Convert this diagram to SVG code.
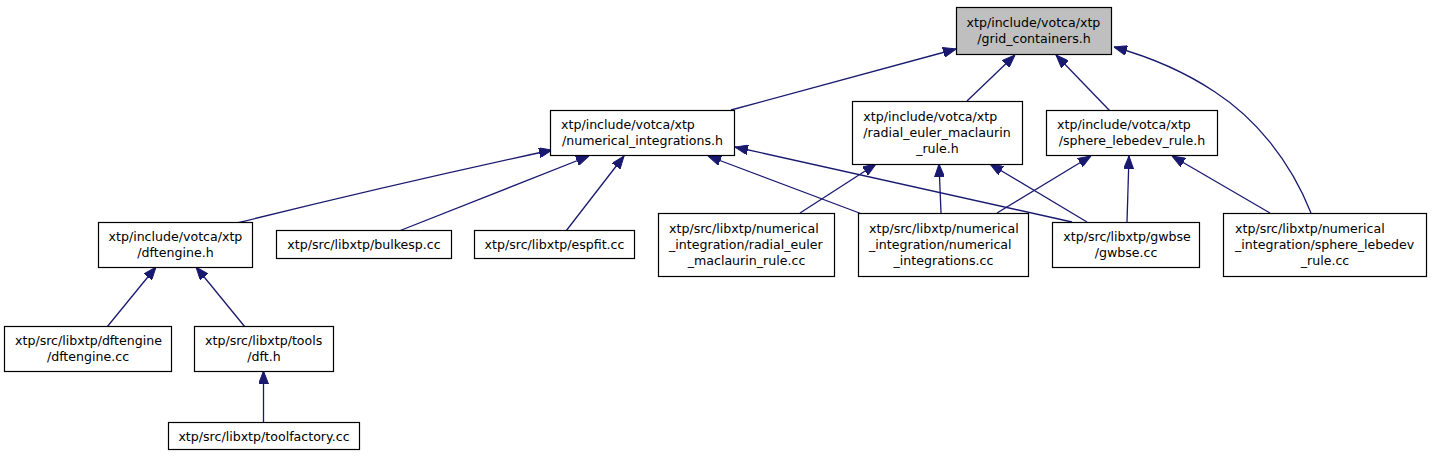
<svg xmlns="http://www.w3.org/2000/svg" width="1432" height="456" viewBox="0 0 1432 456">
<style>
.n rect{fill:#ffffff;stroke:#000000;stroke-width:1.2}
.n.root rect{fill:#bfbfbf}
text{font-family:"DejaVu Sans","Liberation Sans",sans-serif;font-size:12.6px;fill:#000000}
.c{text-anchor:middle}
.e path{fill:none;stroke:#191970;stroke-width:1.3;marker-end:url(#ah)}
</style>
<defs>
<marker id="ah" viewBox="0 0 13 10" refX="13" refY="5" markerWidth="13" markerHeight="10" markerUnits="userSpaceOnUse" orient="auto">
<path d="M0,0 L13,5 L0,10 z" fill="#191970" stroke="#191970" stroke-width="1"/>
</marker>
</defs>
<rect width="1432" height="456" fill="#ffffff"/>
<g id="edges" class="e">
<path d="M731,110 L956,49"/>
<path d="M967,101 L1015,55"/>
<path d="M1110,111 L1056,55"/>
<path d="M1311,213 C1290,160 1255,118 1215,92 C1185,72 1150,57 1114,47"/>
<path d="M237,223 Q390,185 552,150"/>
<path d="M399,231 L589,156"/>
<path d="M566,231 L624,156"/>
<path d="M862,214 L708,156"/>
<path d="M1072,222 L735,147"/>
<path d="M800,213 L876,164"/>
<path d="M941,213 L939,164"/>
<path d="M1087,222 L990,164"/>
<path d="M997,213 L1091,156"/>
<path d="M1127,222 L1129,156"/>
<path d="M1270,213 L1172,156"/>
<path d="M107,327 L156,267"/>
<path d="M245,327 L196,267"/>
<path d="M263.5,423 L263.5,371"/>
</g>
<g id="node_root" class="n root">
<rect x="956.5" y="7.5" width="155" height="47"/>
<text x="966.5" y="27">xtp/include/votca/xtp</text>
<text class="c" x="1034" y="43">/grid_containers.h</text>
</g>
<g id="node_numint_h" class="n">
<rect x="550.5" y="110.5" width="184" height="45"/>
<text x="561" y="129">xtp/include/votca/xtp</text>
<text class="c" x="642.5" y="145">/numerical_integrations.h</text>
</g>
<g id="node_radial_h" class="n">
<rect x="852.5" y="101.5" width="170" height="63"/>
<text x="863.3" y="121">xtp/include/votca/xtp</text>
<text x="863.3" y="137">/radial_euler_maclaurin</text>
<text class="c" x="937.5" y="153">_rule.h</text>
</g>
<g id="node_sphere_h" class="n">
<rect x="1046.5" y="110.5" width="171" height="45"/>
<text x="1057" y="129">xtp/include/votca/xtp</text>
<text class="c" x="1132" y="145">/sphere_lebedev_rule.h</text>
</g>
<g id="node_dftengine_h" class="n">
<rect x="98.5" y="222.5" width="154" height="45"/>
<text x="108.5" y="241">xtp/include/votca/xtp</text>
<text class="c" x="175.5" y="257">/dftengine.h</text>
</g>
<g id="node_bulkesp" class="n">
<rect x="276.5" y="230.5" width="175" height="28"/>
<text class="c" x="364" y="249">xtp/src/libxtp/bulkesp.cc</text>
</g>
<g id="node_espfit" class="n">
<rect x="474.5" y="230.5" width="160" height="28"/>
<text class="c" x="554.5" y="249">xtp/src/libxtp/espfit.cc</text>
</g>
<g id="node_radial_cc" class="n">
<rect x="658.5" y="213.5" width="176" height="63"/>
<text x="669" y="233">xtp/src/libxtp/numerical</text>
<text x="669" y="249">_integration/radial_euler</text>
<text class="c" x="746.5" y="265">_maclaurin_rule.cc</text>
</g>
<g id="node_numint_cc" class="n">
<rect x="858.5" y="213.5" width="170" height="63"/>
<text x="869" y="233">xtp/src/libxtp/numerical</text>
<text x="869" y="249">_integration/numerical</text>
<text class="c" x="943.5" y="265">_integrations.cc</text>
</g>
<g id="node_gwbse" class="n">
<rect x="1052.5" y="222.5" width="147" height="45"/>
<text x="1063.3" y="241">xtp/src/libxtp/gwbse</text>
<text class="c" x="1126" y="257">/gwbse.cc</text>
</g>
<g id="node_sphere_cc" class="n">
<rect x="1223.5" y="213.5" width="203" height="63"/>
<text x="1235" y="233">xtp/src/libxtp/numerical</text>
<text x="1235" y="249">_integration/sphere_lebedev</text>
<text class="c" x="1325" y="265">_rule.cc</text>
</g>
<g id="node_dftengine_cc" class="n">
<rect x="4.5" y="326.5" width="167" height="45"/>
<text x="15" y="345">xtp/src/libxtp/dftengine</text>
<text class="c" x="88" y="361">/dftengine.cc</text>
</g>
<g id="node_dft_h" class="n">
<rect x="194.5" y="326.5" width="139" height="45"/>
<text x="205" y="345">xtp/src/libxtp/tools</text>
<text class="c" x="264" y="361">/dft.h</text>
</g>
<g id="node_toolfactory" class="n">
<rect x="168.5" y="422.5" width="191" height="27"/>
<text class="c" x="264" y="440.5">xtp/src/libxtp/toolfactory.cc</text>
</g>
</svg>
